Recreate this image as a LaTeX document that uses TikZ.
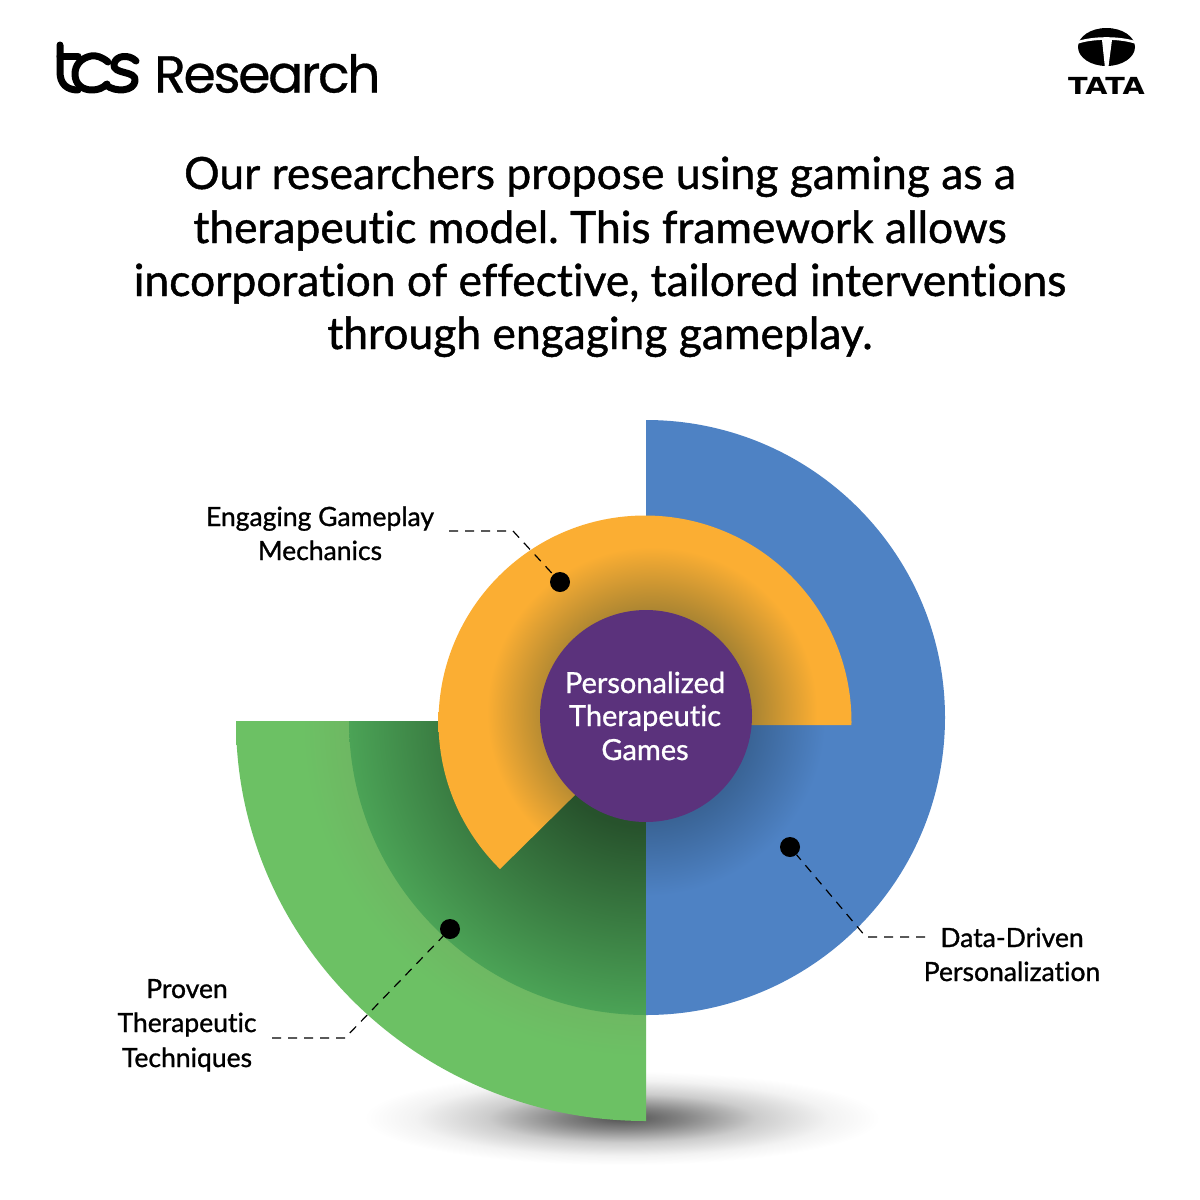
\documentclass[tikz,border=0pt]{standalone}
\usepackage{fontspec}
\setmainfont{Lato}[FakeBold=1,Ligatures=NoCommon]
\newfontfamily\logofont{Poppins}[FakeBold=0.6,LetterSpace=-4.5]
\newfontfamily\tatafont{DejaVu Sans}[FakeStretch=1.22]
\usetikzlibrary{calc}
\definecolor{bluebase}{HTML}{4E82C4}
\definecolor{bluedark}{HTML}{3A6496}
\definecolor{orangebase}{HTML}{FBAE33}
\definecolor{orangedark}{HTML}{A98432}
\definecolor{greenbase}{HTML}{6CC164}
\definecolor{greendull}{HTML}{6EB863}
\definecolor{greenmid}{HTML}{4BA356}
\definecolor{greendark}{HTML}{27522C}
\definecolor{purplebase}{HTML}{5B327C}
\pgfdeclareradialshading{blueglow}{\pgfpoint{0bp}{0bp}}{color(0bp)=(bluedark); color(8.9bp)=(bluedark); color(15bp)=(bluebase); color(50bp)=(bluebase)}
\pgfdeclareradialshading{orangeglow}{\pgfpoint{0bp}{0bp}}{color(0bp)=(orangedark); color(10.4bp)=(orangedark); color(17.2bp)=(orangebase); color(50bp)=(orangebase)}
\pgfdeclareradialshading{greenglow}{\pgfpoint{0bp}{0bp}}{color(0bp)=(greendark); color(9bp)=(greendark); color(25bp)=(greenmid); color(50bp)=(greenmid)}
\pgfdeclareradialshading{greenouter}{\pgfpoint{0bp}{0bp}}{color(0bp)=(greendull); color(18.3bp)=(greendull); color(21bp)=(greenbase); color(50bp)=(greenbase)}
\pgfdeclareradialshading{floorshadow}{\pgfpoint{0bp}{0bp}}{color(0bp)=(black!68); color(6bp)=(black!48); color(13bp)=(black!20); color(20bp)=(black!5); color(25bp)=(white); color(50bp)=(white)}
\tikzset{
  x=1pt,y=-1pt,
  title/.style={font=\fontsize{44.4}{44.4}\selectfont,anchor=base},
  label/.style={font=\fontsize{26.5}{26.5}\selectfont,anchor=base,text=black},
  centrelabel/.style={font=\fontsize{29}{29}\selectfont,anchor=base,text=white},
  marker/.style={circle,fill=black,inner sep=0pt,minimum size=20pt},
  leader/.style={draw=black,line width=1.2pt,dash pattern=on 9pt off 7pt},
  logostroke/.style={draw=black,line width=7pt,line cap=round,line join=round}
}
\begin{document}
\frenchspacing
\begin{tikzpicture}
\useasboundingbox (0,0) rectangle (1200,1200);
\fill[white] (0,0) rectangle (1200,1200);
% floor shadow
\shade[shading=floorshadow] (622,1118) ellipse [x radius=258,y radius=47];
% green outer
\begin{scope}
 \clip (236,721) rectangle (646,1125);
 \shade[shading=greenouter] (646,721) ellipse [x radius=410,y radius=400];
\end{scope}
\begin{scope}
 \clip (349,721) rectangle (646,1016);
 \shade[shading=greenglow] (646,721) ellipse [x radius=297,y radius=294];
\end{scope}
% blue
\begin{scope}
 \clip (646,400) rectangle (960,1030);
 \shade[shading=blueglow] (646,717.5) ellipse [x radius=299,y radius=297.5];
\end{scope}
% orange
\begin{scope}
 \clip (646,725) -- (870,725) -- (870,490) -- (420,490) -- (420,948) -- cycle;
 \clip (645,722) circle [radius=206.5];
 \shade[shading=orangeglow] (652,712) circle [radius=240];
\end{scope}
\node[circle,fill=purplebase,minimum size=212pt,inner sep=0pt] (hub) at (646,716) {};
\node[centrelabel] (h1) at (645,693) {Personalized};
\node[centrelabel] (h2) at (645,726) {Therapeutic};
\node[centrelabel] (h3) at (645,760) {Games};
% markers & leaders
\node[marker] (m1) at (560,582) {};
\node[marker] (m2) at (790,847) {};
\node[marker] (m3) at (450,929) {};
\coordinate (e1) at (449,531); \coordinate (e2) at (513,531);
\coordinate (d1) at (925,937); \coordinate (d2) at (866,937);
\coordinate (p1) at (272,1038); \coordinate (p2) at (345,1038);
\draw[leader] (e1) -- (e2) -- (m1);
\draw[leader] (d1) -- (d2) -- (m2);
\draw[leader] (p1) -- (p2) -- (m3);
\node[label] (a1) at (320,526) {Engaging Gameplay};
\node[label] (a2) at (320,560) {Mechanics};
\node[label] (b1) at (1012,947) {Data-Driven};
\node[label] (b2) at (1012,981) {Personalization};
\node[label] (c1) at (187,998) {Proven};
\node[label] (c2) at (187,1032) {Therapeutic};
\node[label] (c3) at (187,1067) {Techniques};
% title
\node[title] (t1) at (600,189) {Our researchers propose using gaming as a};
\node[title] (t2) at (600,243) {therapeutic model. This framework allows};
\node[title] (t3) at (600,296) {incorporation of effective, tailored interventions};
\node[title] (t4) at (600,349) {through engaging gameplay.};
% tcs logo
\draw[logostroke] (60,45) -- (60,72) .. controls (60,84) and (67,90) .. (78,90);
\draw[logostroke] (60,56) -- (78,56);
\draw[logostroke] (108,62) .. controls (102,57) and (96,55) .. (91,56) .. controls (81,58) and (75,65) .. (75,74) .. controls (75,84) and (82,90) .. (92,90) .. controls (98,90) and (103,88) .. (107,84);
\draw[logostroke] (136,61) .. controls (129,54) and (116,55) .. (114,64) .. controls (112,75) and (137,70) .. (135,81) .. controls (134,91) and (116,93) .. (106,85);
\node[anchor=base west,font=\logofont\fontsize{52}{52}\selectfont,inner sep=0pt] (res) at (154,92.5) {Research};
% tata logo
\fill[black] (1106.5,47) ellipse [x radius=28.5,y radius=19];
\draw[white,line width=2.6pt] (1076,43) .. controls (1092,37) and (1121,37) .. (1137,43);
\fill[white] (1102,40) -- (1112,40) -- (1108.3,68) -- (1105,68) -- cycle;
\node[anchor=base,font=\tatafont\bfseries\fontsize{23.5}{23.5}\selectfont,inner sep=0pt] (tata) at (1106.5,94) {TATA};
\end{tikzpicture}
\end{document}
